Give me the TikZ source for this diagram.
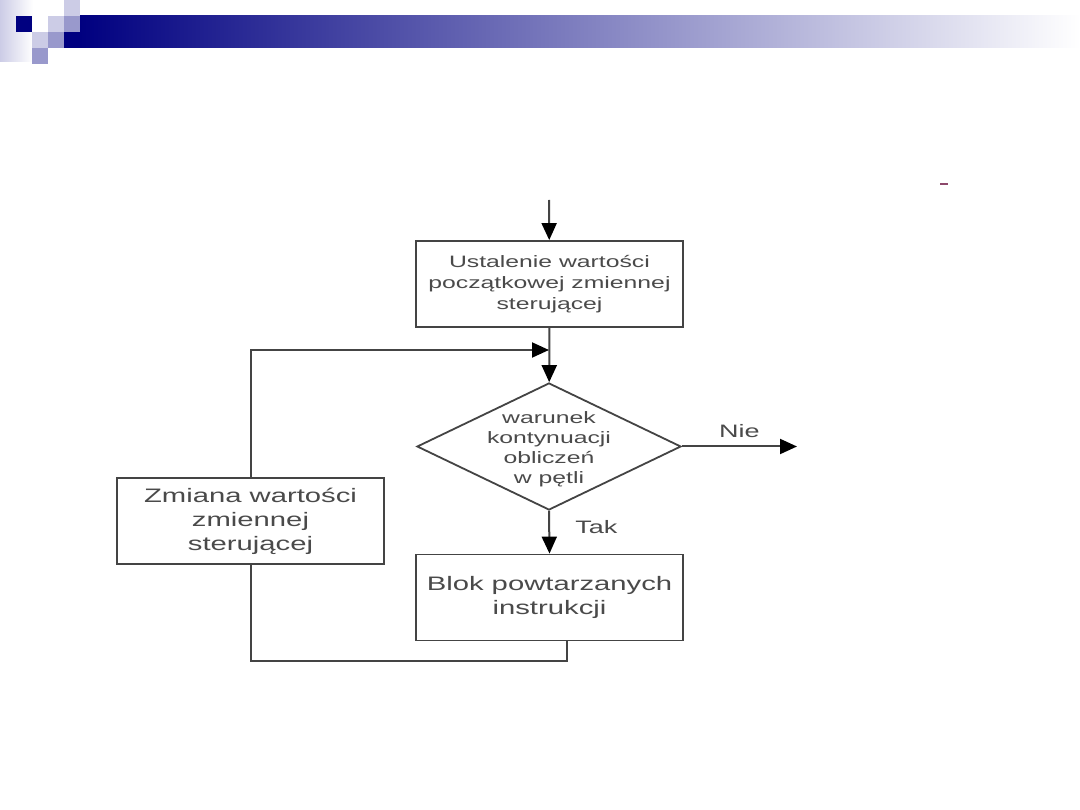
\documentclass[tikz,border=0pt]{standalone}
\usepackage{fontspec}
\usepackage{tikz}
\usetikzlibrary{arrows.meta,shapes.geometric}
\newfontfamily\flowfont[FakeStretch=1.5]{Liberation Sans}
\definecolor{barnavy}{HTML}{000080}
\definecolor{squarelight}{HTML}{CCCCE6}
\definecolor{squaremid}{HTML}{9999CC}
\definecolor{linegray}{HTML}{444444}
\definecolor{textgray}{HTML}{4A4A4A}

\begin{document}
\begin{tikzpicture}[x=1pt,y=-1pt,
  block/.style={draw=linegray,line width=1.8pt,minimum width=267pt,minimum height=86pt,inner sep=0pt,align=center,text=textgray,font=\flowfont\fontsize{16.5}{21}\selectfont},
  bigblock/.style={block,font=\flowfont\fontsize{19.5}{24}\selectfont},
  cond/.style={diamond,draw=linegray,line width=1.8pt,minimum width=264pt,minimum height=127pt,inner sep=0pt},
  condtext/.style={align=center,text=textgray,inner sep=0pt,yshift=-3pt,font=\flowfont\fontsize{16.5}{20}\selectfont},
  lbl/.style={text=textgray,inner sep=0pt,font=\flowfont\fontsize{18}{20}\selectfont},
  arr/.style={-{Triangle[length=17pt,width=15pt,black]},draw=linegray,line width=2pt},
  link/.style={draw=linegray,line width=2pt}]
  \useasboundingbox (0,0) rectangle (1080,810);
  \fill[white] (0,0) rectangle (1080,810);
  % header
  \shade[left color=squarelight,right color=white] (0,0) rectangle (33,62);
  \shade[left color=barnavy,right color=white] (80,16) rectangle (1080,48);
  \foreach \c/\r/\col in {1/1/barnavy,3/1/squarelight,4/1/squaremid,4/0/squarelight,2/2/squarelight,3/2/squaremid,2/3/squaremid,4/2/barnavy}
    \fill[\col] (16*\c,16*\r) rectangle ++(16,16);
  \draw[magenta!50!black,line width=1.2pt] (940,184) -- (948,184);

  \node[block] (init) at (549.5,284) {Ustalenie wartości\\początkowej zmiennej\\sterującej};
  \node[cond,label={[condtext]center:{warunek\\kontynuacji\\obliczeń\\w pętli}}] (test) at (549,446.5) {};
  \node[bigblock] (body) at (549.5,597.5) {Blok powtarzanych\\instrukcji};
  \node[bigblock] (step) at (250.5,521) {Zmiana wartości\\zmiennej\\sterującej};
  \coordinate (entry) at (549,200);
  \coordinate (merge) at (549,350);
  \coordinate (exit) at (797,446.5);

  \draw[arr] (entry) -- (init);
  \draw[arr] (init) -- (test);
  \draw[arr] (step.north) |- (merge);
  \draw[arr] (test.east) -- (exit) node[lbl,midway,above=8pt] {Nie};
  \draw[arr] (test.south) -- (body.north) node[lbl,midway,right=25pt,yshift=5pt] {Tak};
  \draw[link] ([xshift=17pt]body.south) -- ++(0,20) -| (step.south);
\end{tikzpicture}
\end{document}
